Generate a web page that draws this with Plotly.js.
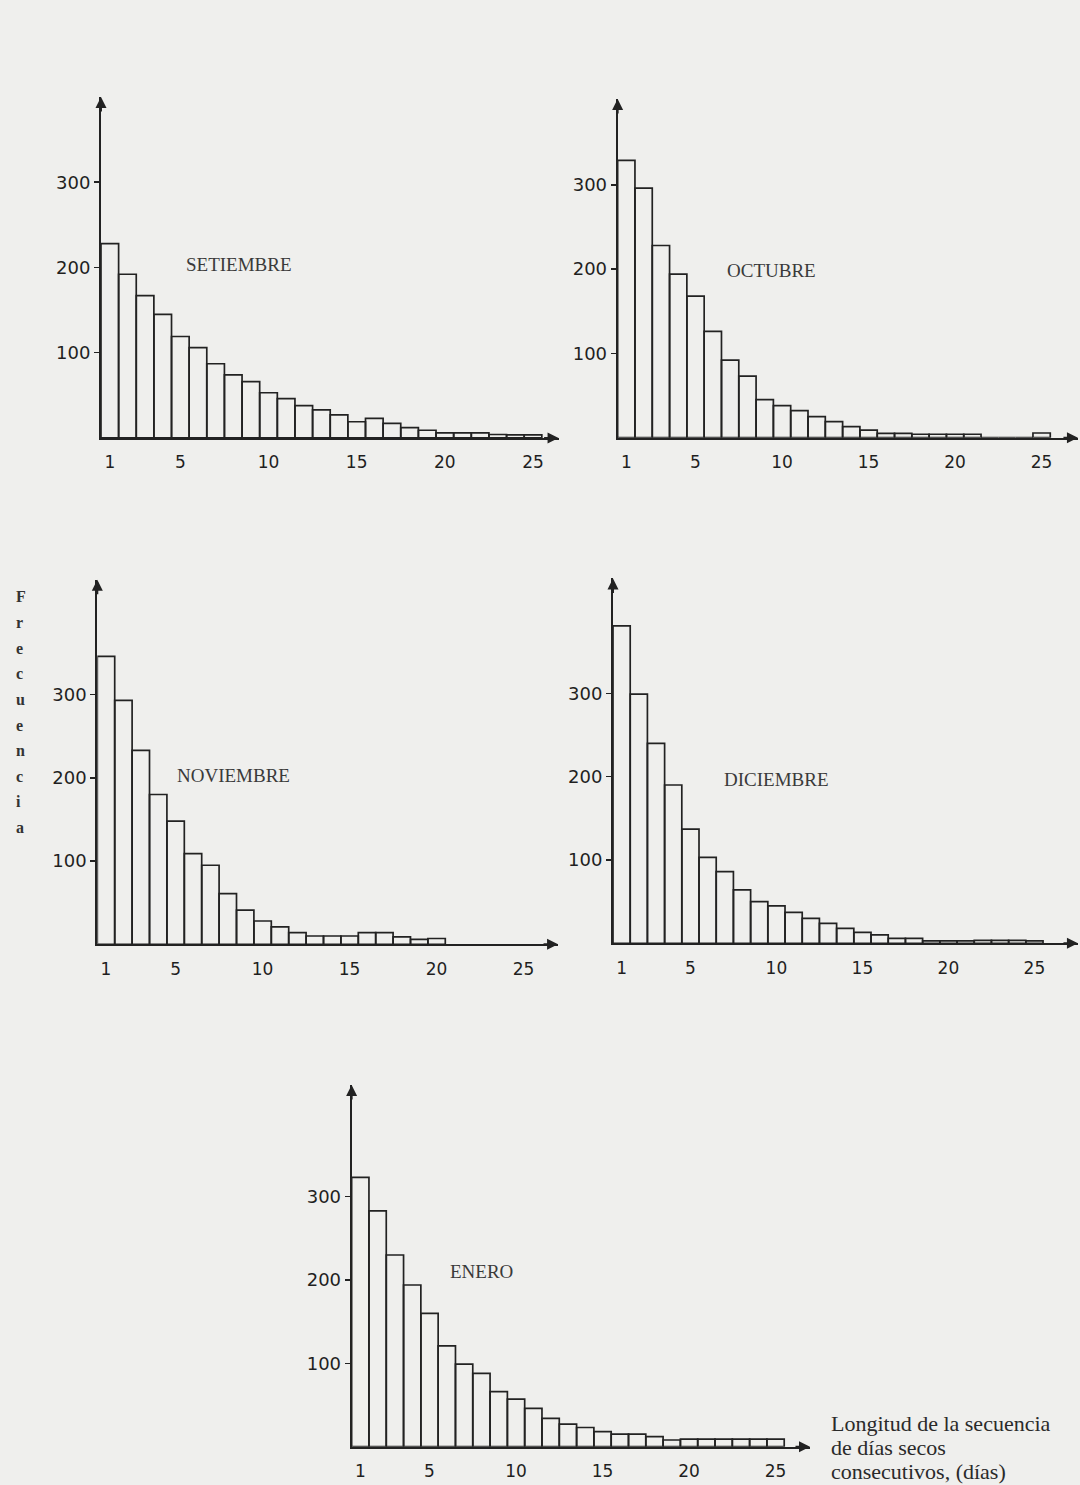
<!DOCTYPE html>
<html><head><meta charset="utf-8">
<script src="https://cdn.plot.ly/plotly-3.0.1.min.js"></script>
<style>html,body{margin:0;padding:0;background:#efefed;} #chart{width:1080px;height:1485px;}</style>
</head><body><div id="chart"></div>
<script>
// ---- data ----
const lengths = [1,2,3,4,5,6,7,8,9,10,11,12,13,14,15,16,17,18,19,20,21,22,23,24,25];
const setiembre = [228,192,167,145,119,106,87,74,66,53,46,38,33,27,19,23,17,12,9,6,6,6,4,3.5,3.5];
const octubre   = [329,296,228,194,168,126,92,73,45,38,32,25,19,13,9,5,5,4,4,4,4,0,0,0,5.5];
const noviembre = [346,293,233,180,148,109,95,61,41,28,21,14,10,10,10,14,14,9,6,7];
const diciembre = [381,299,240,190,137,103,86,64,50,45,37,30,24,18,13,10,6,6,3,3,3,3.5,3.5,3.5,3];
const enero     = [323,283,230,194,160,121,99,88,66,57,46,34,27,23,18,15,15,12,8,9,9,9,9,9,9];
const monthNames = ['SETIEMBRE','OCTUBRE','NOVIEMBRE','DICIEMBRE','ENERO'];
const yTickVals = [100,200,300];
const xTickVals = [1,5,10,15,20,25];
const yTitle = 'Frecuencia';
const xTitleLines = ['Longitud de la secuencia','de días secos','consecutivos, (días)'];

// ---- layout of the five panels ----
const series = [setiembre, octubre, noviembre, diciembre, enero];
const panels = [
  {xd:[0.0935,0.5172], xr:[0.5,26.45], yd:[0.7051,0.9347], yr:[0,400], lab:[8.3,203]},
  {xd:[0.5719,0.9981], xr:[0.5,27.1],  yd:[0.7053,0.9334], yr:[0,402], lab:[9.4,198]},
  {xd:[0.0901,0.5167], xr:[0.5,26.98], yd:[0.3641,0.6096], yr:[0,438], lab:[8.3,203]},
  {xd:[0.5676,0.9981], xr:[0.5,27.53], yd:[0.3648,0.6105], yr:[0,438], lab:[10.0,197]},
  {xd:[0.3256,0.7500], xr:[0.5,26.99], yd:[0.0258,0.2694], yr:[0,434], lab:[8.0,210]}
];

const INK = '#222';
const traces = [];
const layout = {
  width:1080, height:1485, margin:{l:0,r:0,t:0,b:0},
  paper_bgcolor:'#efefed', plot_bgcolor:'rgba(0,0,0,0)',
  showlegend:false, bargap:0, annotations:[]
};

series.forEach((vals, i) => {
  const n = i + 1;
  const xa = 'xaxis' + (n === 1 ? '' : n), ya = 'yaxis' + (n === 1 ? '' : n);
  const xr = 'x' + (n === 1 ? '' : n), yr = 'y' + (n === 1 ? '' : n);
  const p = panels[i];
  traces.push({
    type:'bar', x: lengths.slice(0, vals.length), y: vals, width:1,
    xaxis: xr, yaxis: yr, hoverinfo:'skip',
    marker:{color:'rgba(0,0,0,0)', line:{color:INK, width:1.7}}
  });
  layout[xa] = {
    domain:p.xd, range:p.xr, anchor:yr, showgrid:false, zeroline:false,
    showline:true, linecolor:INK, linewidth:2, ticks:'',
    tickvals:xTickVals, ticklabelstandoff:8,
    tickfont:{family:'DejaVu Sans', size:17, color:'#1f1f1f'}
  };
  layout[ya] = {
    domain:p.yd, range:p.yr, anchor:xr, showgrid:false, zeroline:false,
    showline:true, linecolor:INK, linewidth:2, ticks:'outside', ticklen:5,
    tickwidth:1.5, tickcolor:INK, tickvals:yTickVals,
    tickfont:{family:'DejaVu Sans', size:18, color:'#1f1f1f'}
  };
  // arrow heads
  layout.annotations.push({
    xref:xr, yref:yr, x:p.xr[1], y:0, ax:-16, ay:0, text:'', showarrow:true,
    arrowhead:2, arrowsize:1.1, arrowwidth:2, arrowcolor:INK
  });
  layout.annotations.push({
    xref:xr, yref:yr, x:0.5, y:p.yr[1], ax:0, ay:16, text:'', showarrow:true,
    arrowhead:2, arrowsize:1.1, arrowwidth:2, arrowcolor:INK
  });
  // month label
  layout.annotations.push({
    xref:xr, yref:yr, x:p.lab[0], y:p.lab[1], text:monthNames[i], showarrow:false,
    font:{family:'Liberation Serif', size:19, color:'#3a3a3a'}
  });
});

// vertical y title, one letter per line
yTitle.split('').forEach((ch, k) => {
  layout.annotations.push({
    xref:'paper', yref:'paper', x:14/1080, y:1 - (597 + k*25.6)/1485,
    text:'<b>' + ch + '</b>', showarrow:false,
    font:{family:'Liberation Serif', size:16, color:'#333'}
  });
});

// x title near the ENERO arrow
xTitleLines.forEach((line, k) => {
  layout.annotations.push({
    xref:'paper', yref:'paper', x:829/1080, y:1 - (1423 + k*24)/1485,
    xanchor:'left', yanchor:'middle', text:line, showarrow:false,
    font:{family:'Liberation Serif', size:22, color:'#2a2a2a'}
  });
});

Plotly.newPlot('chart', traces, layout, {displayModeBar:false, staticPlot:true});
</script>
</body></html>
